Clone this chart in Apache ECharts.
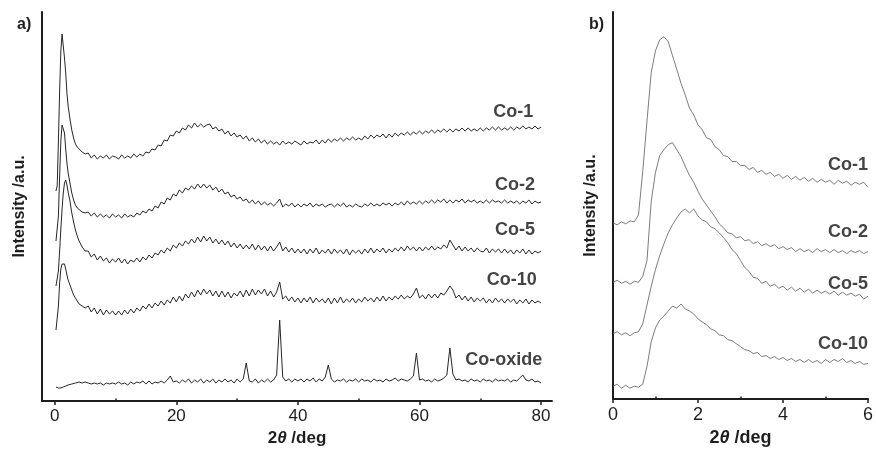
<!DOCTYPE html>
<html><head><meta charset="utf-8">
<script src="https://cdn.jsdelivr.net/npm/echarts@6/dist/echarts.min.js"></script>
<style>html,body{margin:0;padding:0;background:#fff}#c{width:876px;height:452px}</style>
</head><body><div id="c"></div>
<script>
// ---------- Panel a: 2theta (deg) sampling and curves (offset intensities, a.u.) ----------
const xA = [0.2,0.4,0.6,0.8,1.0,1.2,1.4,1.6,1.8,2.0,2.2,2.5,2.8,3.1,3.4,3.7,4.0,4.5,5.0,
5.5,6,6.5,7,7.5,8,8.5,9,9.5,10,10.5,11,11.5,12,12.5,13,13.5,14,14.5,15,
15.5,16,16.5,17,17.5,18,18.5,19,19.5,20,20.5,21,21.5,22,22.5,23,23.5,24,24.5,25,
25.5,26,26.5,27,27.5,28,28.5,29,29.5,30,30.5,31,31.5,32,32.5,33,33.5,34,34.5,35,
35.5,36,36.5,37,37.5,38,38.5,39,39.5,40,40.5,41,41.5,42,42.5,43,43.5,44,44.5,45,
45.5,46,46.5,47,47.5,48,48.5,49,49.5,50,50.5,51,51.5,52,52.5,53,53.5,54,54.5,55,
55.5,56,56.5,57,57.5,58,58.5,59,59.5,60,60.5,61,61.5,62,62.5,63,63.5,64,64.5,65,
65.5,66,66.5,67,67.5,68,68.5,69,69.5,70,70.5,71,71.5,72,72.5,73,73.5,74,74.5,75,
75.5,76,76.5,77,77.5,78,78.5,79,79.5,80];
const co1A = [210,215,260,310,350,367,355,343,328,308,295,282,271,263,257,254,252,249,247,
248,243,246,242,245,243,246,242,245,244, 242,246,243,245,243,247,244,247,245,249,
248,252,251,256,255,261,260,266,265,270, 268,273,271,276,273,278,274,277,274,276,
277,272,274,270,272,267,270,265,268,264, 266,262,265,260,263,259,262,258,261,257,
260,257,259,256,260,257,259,257,260,258, 256,260,257,259,258,261,257,261,258,262,
259,262,260,263,260,263,261,264,261,263, 261,265,262,266,263,266,264,267,263,267,
264,268,265,268,266,269,266,269,267,270, 267,270,268,271,268,271,269,272,269,272,
269,272,270,273,270,273,270,272,270,273, 270,273,271,274,271,274,271,273,271,274,
271,274,272,275,272,274,272,275,272,274];
const co2A = [160,162,185,225,260,276,277,268,252,238,228,218,208,201,196,193,191,189,188,
189,185,188,184,187,184,186,183,187,184, 186,183,187,184,186,184,188,186,190,188,
192,190,195,193,199,197,203,201,207,205, 211,208,213,211,215,212,217,213,217,213,
216,211,214,209,212,207,209,204,206,202, 204,200,202,198,201,197,200,196,199,196,
198,195,198,202,194,197,195,198,194,197, 194,197,195,198,194,197,195,197,194,196,
197,194,197,195,198,194,196,194,197,195, 194,197,195,198,195,197,195,198,196,198,
195,198,196,199,196,200,197,199,197,200, 197,200,198,201,198,201,199,202,198,201,
198,201,199,202,198,201,199,201,198,200, 198,201,198,201,199,200,198,201,198,200,
198,200,197,200,198,201,197,200,198,199];
const co5A = [115,117,130,150,172,192,208,218,221,216,209,200,188,179,171,165,160,154,150,
150,144,147,141,145,140,143,138,142,139, 143,138,142,137,141,139,143,139,144,141,
146,143,148,146,151,148,153,150,156,153, 158,155,160,157,162,158,164,159,165,160,
164,158,162,157,161,156,160,154,158,153, 157,152,156,152,157,151,156,151,155,150,
155,150,154,159,150,154,149,153,148,152, 148,152,147,152,148,153,147,151,148,152,
147,152,148,151,147,152,146,151,148,151, 147,152,148,153,148,152,149,153,148,152,
149,153,150,154,150,155,151,154,150,154, 150,154,151,155,151,154,152,156,153,161,
156,151,155,150,154,150,153,149,153,150, 149,153,148,152,149,152,148,152,148,151,
147,151,148,152,147,151,147,150,148,150];
const co10A = [71,73,95,118,132,137,139,137,132,126,121,116,111,106,103,100,97,95,93,
95,89,93,87,92,86,91,87,90,86, 90,86,91,87,92,88,93,90,95,92,
97,93,98,95,100,96,101,98,104,99, 105,100,107,103,109,104,111,106,112,107,
111,105,110,104,110,104,109,103,108,105, 110,104,111,105,112,106,111,107,112,105,
110,104,109,119,102,105,100,104,99,103, 98,103,99,104,98,103,99,102,98,103,
97,103,98,104,98,102,99,103,98,102, 99,104,100,103,99,104,100,105,100,104,
101,105,102,106,102,105,103,107,113,103, 106,102,107,103,107,103,108,106,110,115,
111,103,106,101,105,100,104,99,103,100, 103,98,102,98,103,99,102,98,102,99,
102,97,101,98,102,97,101,98,100,98];
const coOxA = [14,14,13,14,13,14,14,15,15,16,16,17,17,18,18,18,19,18,19,
18,17,18,17,18,16,18,17,18,17, 19,17,18,16,19,17,19,18,20,17,
20,17,19,18,20,18,21,25,19,20, 18,21,19,22,18,21,19,22,18,21,
19,22,18,21,19,22,19,21,18,22, 19,22,38,20,19,22,18,21,19,22,
19,21,26,81,24,20,22,19,22,20, 22,19,22,20,23,19,22,20,24,36,
22,19,21,20,22,19,21,20,22,19, 22,20,21,19,22,20,21,19,22,20,
21,23,20,22,21,20,22,25,48,21, 22,20,21,19,22,20,21,23,26,53,
27,21,22,20,21,19,22,20,21,19, 22,20,21,19,22,20,21,20,22,19,
21,20,23,26,21,20,22,19,20,18];
const namesA = ['Co-1','Co-2','Co-5','Co-10','Co-oxide'];
const labelXA = [78.7,79.0,79.0,79.3,80.2];
const labelYA = [289,216,171,121,41];
const majorTicksA = [0,20,40,60,80];
const minorTicksA = [10,30,50,70];

// ---------- Panel b ----------
const xB = [0,0.1,0.2,0.3,0.4,0.5,0.6,0.7,0.8,0.9,1.0,1.1,1.2,1.3,1.4,1.5,1.6,1.7,1.8,1.9,
2.0,2.1,2.2,2.3,2.4,2.5,2.6,2.7,2.8,2.9,3.0,3.1,3.2,3.3,3.4,3.5,3.6,3.7,3.8,3.9,
4.0,4.1,4.2,4.3,4.4,4.5,4.6,4.7,4.8,4.9,5.0,5.1,5.2,5.3,5.4,5.5,5.6,5.7,5.8,5.9,6.0];
const co1B = [178,176,179,177,180,179,186,230,281,330, 352,363,366,361,347,333,319,307,294,287,
277,272,264,262,255,252,246,245,240,240, 236,236,232,234,229,231,227,229,225,227,
223,226,222,225,221,224,220,223,219,222, 219,221,217,221,218,220,216,219,217,219, 214];
const co2B = [118,120,117,119,116,119,118,124,140,200, 229,246,252,257,259,252,245,235,226,219,
210,202,196,190,184,177,173,168,167,163, 164,160,161,157,159,155,157,154,156,152,
154,151,153,149,152,149,151,148,152,149, 151,148,151,148,150,147,150,148,150,147, 149];
const co5B = [66,68,65,67,64,67,68,76,95,114, 131,145,157,168,176,183,189,192,188,192,
185,181,179,174,172,168,163,158,151,147, 140,133,129,123,122,117,119,114,116,112,
114,110,113,109,112,108,111,107,110,107, 109,106,109,105,108,105,107,104,106,101, 104];
const co10B = [13,15,11,14,11,13,12,15,33,58, 72,80,84,89,94,92,96,91,89,86,
81,78,75,71,69,65,64,60,59,56, 53,50,49,46,47,43,44,41,43,40,
42,39,41,38,40,37,40,37,39,36, 40,37,40,38,41,37,39,36,38,35, 36];
const namesB = ['Co-1','Co-2','Co-5','Co-10'];
const labelXB = [6.0,6.0,6.0,6.0];
const labelYB = [236,169,116,56];
const majorTicksB = [0,2,4,6];
const minorTicksB = [1,3,5];

// ---------- chart ----------
const FONT = 'Liberation Sans, Arial, Helvetica, sans-serif';
const INK = '#1e1e1e';
const zip = (xs, ys) => xs.map((x, i) => [x, ys[i]]);

function xAxes(grid, min, max, major, minor, fs, nfs) {
  return [
    { type: 'value', gridIndex: grid, min: min, max: max,
      axisLine: { show: true, onZero: false, lineStyle: { color: INK, width: 2 } },
      axisTick: { show: true, customValues: major, length: 4, inside: false, lineStyle: { color: INK, width: 1.5 } },
      axisLabel: { show: true, customValues: major, color: INK, fontFamily: FONT, fontSize: fs, margin: 7 },
      splitLine: { show: false },
      name: '{n|2}{t|θ}{n| /deg}', nameLocation: 'middle', nameGap: 24,
      nameTextStyle: { rich: {
        n: { fontFamily: FONT, fontWeight: 'bold', fontSize: nfs, color: INK },
        t: { fontFamily: FONT, fontWeight: 'bold', fontStyle: 'italic', fontSize: nfs, color: INK } } } },
    { type: 'value', gridIndex: grid, min: min, max: max,
      axisLine: { show: false },
      axisTick: { show: true, customValues: minor, length: 2.5, lineStyle: { color: INK, width: 1.5 } },
      axisLabel: { show: false }, splitLine: { show: false } }
  ];
}
function yAxis(grid, max) {
  return { type: 'value', gridIndex: grid, min: 0, max: max,
    axisLine: { show: true, onZero: false, lineStyle: { color: INK, width: 2 } },
    axisTick: { show: false }, axisLabel: { show: false }, splitLine: { show: false },
    name: 'Intensity /a.u.', nameLocation: 'middle', nameGap: 14,
    nameTextStyle: { fontFamily: FONT, fontWeight: 'bold', fontSize: 16, color: INK } };
}
function line(name, xi, yi, data, color, w) {
  return { type: 'line', name: name, xAxisIndex: xi, yAxisIndex: yi, data: data,
    showSymbol: false, symbol: 'none', silent: true, animation: false,
    lineStyle: { color: color, width: w }, clip: false };
}
function labels(xi, yi, xs, ys, names) {
  return { type: 'scatter', xAxisIndex: xi, yAxisIndex: yi, symbolSize: 0, silent: true, animation: false,
    clip: false,
    data: names.map((n, i) => [xs[i], ys[i], n]),
    label: { show: true, position: 'left', distance: 0, formatter: p => p.data[2],
      fontFamily: FONT, fontWeight: 'bold', fontSize: 18, color: '#141414' } };
}

const colA = '#262626', colB = '#5a5a5a';
const option = {
  animation: false,
  backgroundColor: '#fff',
  title: [
    { text: 'a)', left: 12, top: 12, textStyle: { fontFamily: FONT, fontWeight: 'bold', fontSize: 16, color: INK } },
    { text: 'b)', left: 584, top: 12, textStyle: { fontFamily: FONT, fontWeight: 'bold', fontSize: 16, color: INK } }
  ],
  grid: [
    { left: 42, right: 324, top: 12, bottom: 51 },
    { left: 613, right: 4, top: 12, bottom: 49 }
  ],
  xAxis: [].concat(xAxes(0, -2.1, 81.8, majorTicksA, minorTicksA, 17, 17), xAxes(1, 0, 6, majorTicksB, minorTicksB, 18, 18)),
  yAxis: [yAxis(0, 389), yAxis(1, 391)],
  series: [
    line('Co-1', 0, 0, zip(xA, co1A), colA, 1),
    line('Co-2', 0, 0, zip(xA, co2A), colA, 1),
    line('Co-5', 0, 0, zip(xA, co5A), colA, 1),
    line('Co-10', 0, 0, zip(xA, co10A), colA, 1),
    line('Co-oxide', 0, 0, zip(xA, coOxA), colA, 1),
    labels(0, 0, labelXA, labelYA, namesA),
    line('Co-1 b', 2, 1, zip(xB, co1B), colB, 0.8),
    line('Co-2 b', 2, 1, zip(xB, co2B), colB, 0.8),
    line('Co-5 b', 2, 1, zip(xB, co5B), colB, 0.8),
    line('Co-10 b', 2, 1, zip(xB, co10B), colB, 0.8),
    labels(2, 1, labelXB, labelYB, namesB)
  ]
};
const chart = echarts.init(document.getElementById('c'), null, { renderer: 'canvas' });
chart.setOption(option);
</script>
</body></html>
